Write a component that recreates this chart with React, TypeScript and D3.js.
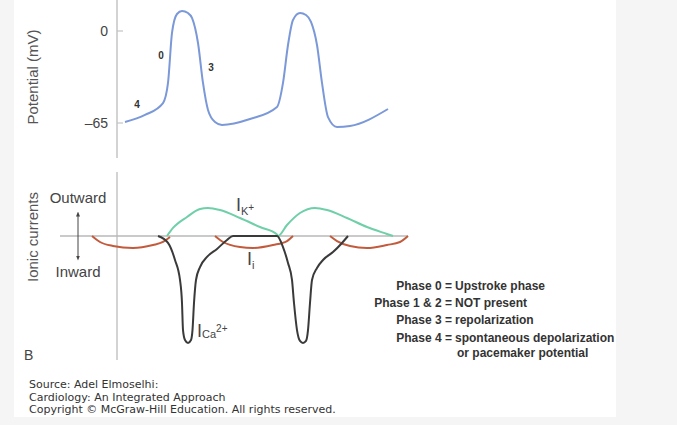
import * as d3 from "d3"

// time in ms-ish units, potential in mV, currents in relative units (ICa peak = -100)
const potential: [number, number][] = [
  [7, -64.3], [27, -59.3], [45, -50.9], [50, -36.7], [54, -1.4], [59, 12.0], [64, 14.1],
  [70, 12.7], [74, 9.2], [80, -8.5], [85, -36.7], [90, -55.8], [97, -64.3], [104, -66.4],
  [132, -62.2], [159, -53.7], [165, -36.7], [170, -9.9], [175, 7.8], [182, 12.7], [188, 11.3],
  [193, 6.4], [199, -9.9], [204, -36.7], [210, -60.8], [219, -67.8], [232, -67.1], [270, -55.1],
]

const iCa: [number, number][] = [
  [40, 0], [50, -6.5], [57, -22.4], [62, -41.1], [64, -62.6], [65, -87.9], [67, -97.2], [70, -100],
  [73, -97.2], [74.5, -87.9], [76, -62.6], [78, -41.1], [82, -29], [89, -19.6], [99, -12.1],
  [109, -3.7], [115, 0], [159, 0], [165, -10.3], [170, -25.2], [174, -41.1], [176, -62.6],
  [179, -87.9], [182, -98.1], [185, -100], [188, -98.1], [190, -87.9], [192, -62.6], [194, -41.1],
  [199, -29.9], [205, -22.4], [215, -15], [224, -6.5], [230, 0],
]

const iK: [number, number][] = [
  [49, 0], [55, 7.5], [69, 17.8], [82, 25.2], [90, 26.2], [102, 24.3], [122, 16.8], [142, 8.4],
  [159, 1.5], [160, 0], [169, 10.3], [182, 21.5], [197, 26.2], [209, 24.3], [229, 16.8],
  [249, 8.4], [269, 1.9], [275, 0],
]

const iFunny: [number, number][][] = [
  [[-26, 0], [-18, -5.6], [-5, -9.3], [15, -11.2], [35, -8.4], [45, -5.6], [52, -0.9]],
  [[97, 0], [105, -5.6], [122, -10.3], [135, -11.2], [155, -8.4], [169, -4.7], [175, 0]],
  [[212, 0], [219, -4.7], [232, -9.3], [249, -11.2], [269, -8.4], [282, -5.6], [290, 0]],
]

const vTicks = [0, -65]
const phaseKeys = ["Phase 0 =", "Phase 1 & 2 =", "Phase 3 =", "Phase 4 =", ""]
const phaseDescs = [
  "Upstroke phase",
  "NOT present",
  "repolarization",
  "spontaneous depolarization",
  "or pacemaker potential",
]
const phaseMarks = [
  { label: "4", t: 19, v: -52 },
  { label: "0", t: 43, v: -17 },
  { label: "3", t: 93, v: -26 },
]
const sourceLines = [
  "Source: Adel Elmoselhi:",
  "Cardiology: An Integrated Approach",
  "Copyright © McGraw-Hill Education. All rights reserved.",
]

const W = 677
const H = 425
const sans = "'Liberation Sans', Arial, sans-serif"

export default function App() {
  const x = d3.scaleLinear().domain([0, 300]).range([118, 418])
  const yV = d3.scaleLinear().domain([-65, 0]).range([123, 31])
  const yI = d3.scaleLinear().domain([-100, 0]).range([343, 236])

  const vLine = d3.line<[number, number]>()
    .x((d) => x(d[0]))
    .y((d) => yV(d[1]))
    .curve(d3.curveMonotoneX)
  const iLine = d3.line<[number, number]>()
    .x((d) => x(d[0]))
    .y((d) => yI(d[1]))
    .curve(d3.curveMonotoneX)

  const axisX = x(0) - 1
  const legendY = [290, 307, 324, 342, 357]

  return (
    <div style={{ position: "absolute", left: 0, top: 0 }}>
      <svg width={W} height={H} style={{ display: "block" }}>
        <defs>
          <marker id="ah" viewBox="0 0 10 10" refX="5" refY="5" markerWidth="5" markerHeight="5" orient="auto-start-reverse">
            <path d="M0,1 L10,5 L0,9 Z" fill="#444" />
          </marker>
        </defs>
        <rect x={0} y={0} width={W} height={H} fill="#f5f5f5" />
        <rect x={14} y={0} width={602} height={417} fill="#fff" />

        {/* top panel: membrane potential */}
        <line x1={axisX} x2={axisX} y1={0} y2={158} stroke="#c4c4c4" strokeWidth={1.5} />
        {vTicks.map((t) => (
          <g key={t}>
            <line x1={axisX} x2={axisX + 6} y1={yV(t)} y2={yV(t)} stroke="#c4c4c4" strokeWidth={1.2} />
            <text x={108} y={yV(t)} dy="0.36em" textAnchor="end" fontFamily={sans} fontSize={14} fill="#444">
              {t === 0 ? "0" : "–65"}
            </text>
          </g>
        ))}
        <text transform="translate(38,77) rotate(-90)" textAnchor="middle" fontFamily={sans} fontSize={15} fill="#555">
          Potential (mV)
        </text>
        <path d={vLine(potential) || ""} fill="none" stroke="#7b98d8" strokeWidth={2} />
        {phaseMarks.map((m) => (
          <text key={m.label} x={x(m.t)} y={yV(m.v)} dy="0.35em" textAnchor="middle" fontFamily={sans} fontSize={10} fontWeight="bold" fill="#333">
            {m.label}
          </text>
        ))}

        {/* bottom panel: ionic currents */}
        <line x1={axisX} x2={axisX} y1={172} y2={360} stroke="#c4c4c4" strokeWidth={1.5} />
        <line x1={x(-58)} x2={x(290)} y1={yI(0)} y2={yI(0)} stroke="#b8b8b8" strokeWidth={1.5} />
        <text transform="translate(38,237) rotate(-90)" textAnchor="middle" fontFamily={sans} fontSize={15} fill="#555">
          Ionic currents
        </text>
        <text x={78} y={203} textAnchor="middle" fontFamily={sans} fontSize={15} fill="#444">Outward</text>
        <text x={78} y={277} textAnchor="middle" fontFamily={sans} fontSize={15} fill="#444">Inward</text>
        <line x1={78} x2={78} y1={214} y2={258} stroke="#444" strokeWidth={1} markerStart="url(#ah)" markerEnd="url(#ah)" />

        {iFunny.map((seg, i) => (
          <path key={i} d={iLine(seg) || ""} fill="none" stroke="#c25a3c" strokeWidth={2} />
        ))}
        <path d={iLine(iK) || ""} fill="none" stroke="#6fcfa8" strokeWidth={2} />
        <path d={iLine(iCa) || ""} fill="none" stroke="#3a3a3a" strokeWidth={2} />

        <text x={236} y={211} fontFamily={sans} fontSize={18} fill="#444">
          I<tspan fontSize={11} dy={4}>K</tspan><tspan fontSize={10} dy={-4}>+</tspan>
        </text>
        <text x={247} y={265} fontFamily={sans} fontSize={18} fill="#444">
          I<tspan fontSize={11} dy={4}>i</tspan>
        </text>
        <text x={197} y={337} fontFamily={sans} fontSize={18} fill="#444">
          I<tspan fontSize={11} dy={1}>Ca</tspan><tspan fontSize={10} dy={-6}>2+</tspan>
        </text>

        <text x={24} y={360} fontFamily={sans} fontSize={14} fill="#444">B</text>

        {/* phase legend */}
        {phaseDescs.map((d, i) => (
          <g key={i} fontFamily={sans} fontSize={12} fontWeight="bold" fill="#333">
            <text x={452} y={legendY[i]} textAnchor="end">{phaseKeys[i]}</text>
            <text x={455} y={legendY[i]} textAnchor="start" dx={i === 4 ? 2 : 0}>{d}</text>
          </g>
        ))}

        {/* source */}
        {sourceLines.map((s, i) => (
          <text key={i} x={29} y={388 + i * 12.5} fontFamily="'DejaVu Sans', Verdana, sans-serif" fontSize={11} fill="#333">
            {s}
          </text>
        ))}
      </svg>
    </div>
  )
}
